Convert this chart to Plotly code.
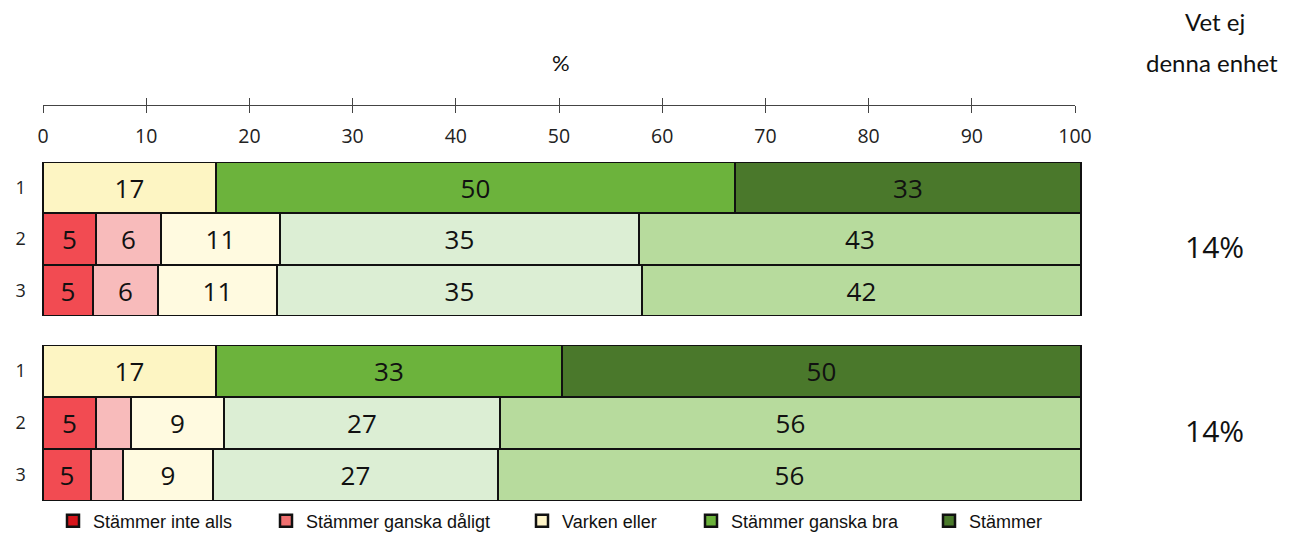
import plotly.graph_objects as go

W, H = 1301, 535

categories = ["Stämmer inte alls", "Stämmer ganska dåligt", "Varken eller",
              "Stämmer ganska bra", "Stämmer"]
rows = ["1", "2", "3"]

# group 1 (upper block), values per category for rows 1..3
g1_inte_alls = [None, 5.1, 4.8]
g1_daligt = [None, 6.3, 6.3]
g1_varken = [16.7, 11.4, 11.4]
g1_ganska_bra = [50.0, 34.6, 35.2]
g1_stammer = [33.3, 42.6, 42.3]

# group 2 (lower block)
g2_inte_alls = [None, 5.1, 4.6]
g2_daligt = [None, 3.4, 3.1]
g2_varken = [16.7, 8.9, 8.7]
g2_ganska_bra = [33.3, 26.6, 27.4]
g2_stammer = [50.0, 56.0, 56.2]

vet_ej = [14, 14]
ticks = [0, 10, 20, 30, 40, 50, 60, 70, 80, 90, 100]

legend_colors = ["#D7151B", "#F07070", "#FFF5C8", "#6BB23B", "#4A7A2B"]
# row 1 uses the strong colours, rows 2-3 the light tints
row1_colors = ["#D7151B", "#F07070", "#FDF5C3", "#6CB33C", "#4A782B"]
row23_colors = ["#F24B52", "#F8BBBB", "#FFFAE0", "#DCEED4", "#B7DB9D"]

FONT_NUM = "Open Sans"
FONT_HEAD = "Lato"
FONT_LEG = "Liberation Sans, Arial, sans-serif"

groups = [
    ("x", "y", [g1_inte_alls, g1_daligt, g1_varken, g1_ganska_bra, g1_stammer]),
    ("x2", "y2", [g2_inte_alls, g2_daligt, g2_varken, g2_ganska_bra, g2_stammer]),
]

fig = go.Figure()

for xa, ya, series in groups:
    for i, vals in enumerate(series):
        colors = [row1_colors[i], row23_colors[i], row23_colors[i]]
        labels = ["" if v is None or v < 4 else f"{v:.0f}" for v in vals]
        fig.add_trace(go.Bar(
            x=vals, y=rows, orientation="h",
            xaxis=xa, yaxis=ya,
            marker=dict(color=colors, line=dict(color="#111111", width=2)),
            text=labels, textposition="inside", insidetextanchor="middle",
            textangle=0, constraintext="none",
            textfont=dict(family=FONT_NUM, size=26, color="#111111"),
            showlegend=False, hoverinfo="skip",
        ))

# legend-only entries with the legend colours
for i, name in enumerate(categories):
    fig.add_trace(go.Bar(
        x=[None], y=[None], orientation="h", xaxis="x", yaxis="y",
        name=name, marker=dict(color=legend_colors[i], line=dict(color="#111111", width=2.5)),
        legend="legend" if i == 0 else f"legend{i + 1}",
        hoverinfo="skip",
    ))

# dummy traces to hold the top tick axis
fig.add_trace(go.Scatter(x=[0, 100], y=[0, 0], xaxis="x3", yaxis="y3", mode="markers",
                         marker=dict(opacity=0), showlegend=False, hoverinfo="skip"))
fig.add_trace(go.Scatter(x=[0, 100], y=[0, 0], xaxis="x4", yaxis="y3", mode="markers",
                         marker=dict(opacity=0), showlegend=False, hoverinfo="skip"))

ppu = (1081 - 43) / 100.0
bar_dom = [(43 - 0.3 * ppu) / W, (1081 + 0.3 * ppu) / W]
tick_dom = [43 / W, 1075 / W]
axis_y = 1 - 104.5 / H


def py(px):
    return 1 - px / H


bar_x = dict(domain=bar_dom, range=[-0.3, 100.3], visible=False, fixedrange=True)
cat_y = dict(categoryorder="array", categoryarray=rows, autorange="reversed",
             showgrid=False, zeroline=False, showline=False, ticks="",
             ticklabelstandoff=13, fixedrange=True,
             tickfont=dict(family=FONT_NUM, size=18, color="#222222"))

legend_x = [53, 266, 522, 691, 929]
legends = {}
for i, lx in enumerate(legend_x):
    key = "legend" if i == 0 else f"legend{i + 1}"
    legends[key] = dict(x=lx / W, y=py(521), xanchor="left", yanchor="middle",
                        bgcolor="rgba(0,0,0,0)", borderwidth=0,
                        font=dict(family=FONT_LEG, size=18, color="#111111"))

annotations = [
    dict(text="%", x=561 / W, y=py(62), xref="paper", yref="paper",
         xanchor="center", yanchor="middle",
         showarrow=False, font=dict(family=FONT_HEAD, size=22, color="#111111")),
    dict(text="Vet ej", x=1215 / W, y=py(21), xref="paper", yref="paper",
         xanchor="center", yanchor="middle",
         showarrow=False, font=dict(family=FONT_HEAD, size=24, color="#111111")),
    dict(text="denna enhet", x=1212 / W, y=py(62), xref="paper", yref="paper",
         xanchor="center", yanchor="middle",
         showarrow=False, font=dict(family=FONT_HEAD, size=24, color="#111111")),
]
for v, ya in zip(vet_ej, ["y", "y2"]):
    annotations.append(dict(text=f"{v}%", x=1214 / W, y=1.15, xref="paper", yref=ya,
                            xanchor="center", yanchor="middle", showarrow=False,
                            font=dict(family=FONT_NUM, size=30, color="#111111")))

fig.update_layout(
    width=W, height=H,
    margin=dict(l=0, r=0, t=0, b=0, autoexpand=False),
    paper_bgcolor="white", plot_bgcolor="white",
    barmode="stack", bargap=0,
    xaxis=dict(bar_x, anchor="y"),
    yaxis=dict(cat_y, domain=[py(316), py(162)], anchor="x"),
    xaxis2=dict(bar_x, anchor="y2"),
    yaxis2=dict(cat_y, domain=[py(501), py(345)], anchor="x2"),
    xaxis3=dict(domain=tick_dom, range=[0, 100], anchor="free", position=axis_y,
                side="bottom", showline=True, linecolor="#444444", linewidth=1,
                ticks="outside", ticklen=7, tickcolor="#444444", tickwidth=1,
                tickvals=ticks, showgrid=False, zeroline=False, fixedrange=True,
                ticklabelstandoff=7,
                tickfont=dict(family=FONT_NUM, size=19.5, color="#222222")),
    xaxis4=dict(overlaying="x3", range=[0, 100], anchor="free", position=axis_y,
                side="bottom", showline=False, ticks="inside", ticklen=7,
                tickcolor="#444444", tickwidth=1, tickvals=ticks,
                showticklabels=False, showgrid=False, zeroline=False, fixedrange=True),
    yaxis3=dict(domain=[axis_y - 0.005, axis_y], anchor="x3", visible=False, fixedrange=True),
    annotations=annotations,
    **legends,
)

fig.write_html("out.html", config={"displayModeBar": False},
               post_script="document.body.style.margin='0';")
